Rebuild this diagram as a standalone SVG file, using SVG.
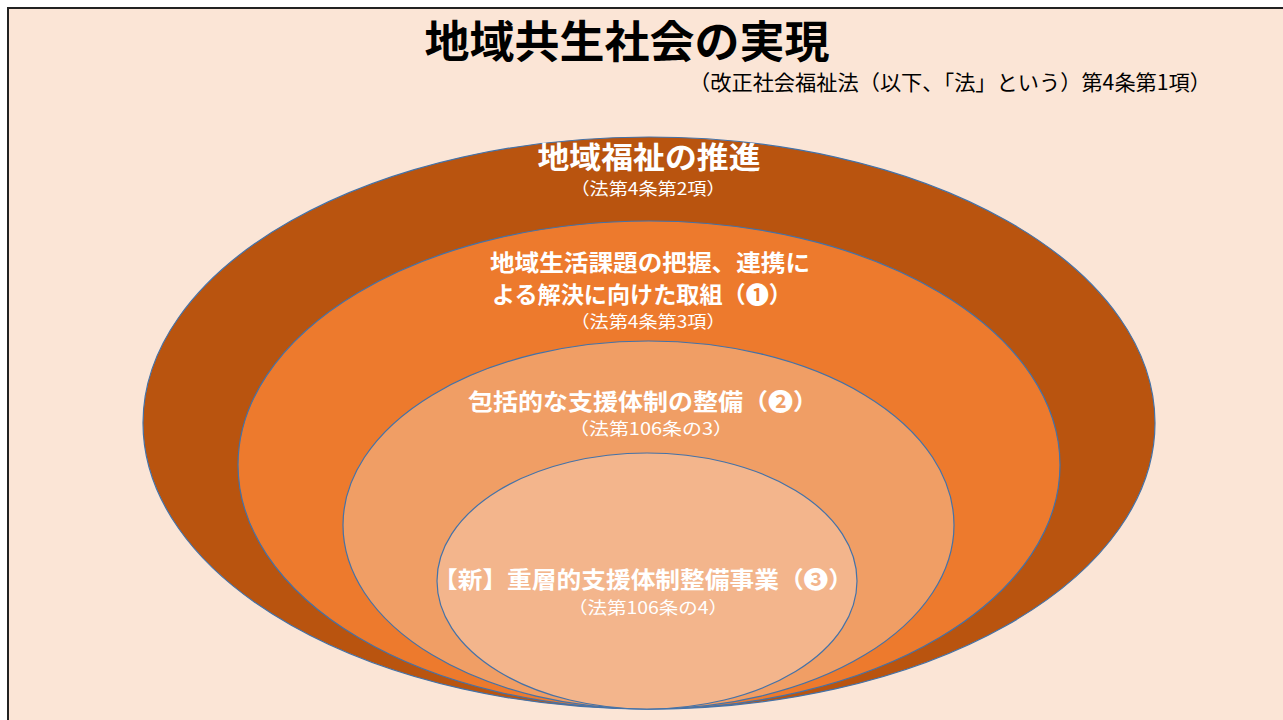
<svg xmlns="http://www.w3.org/2000/svg" width="1283" height="720" viewBox="0 0 1283 720">
<style>
.ring{stroke:#4472A8;stroke-width:1.2}
.t{font-family:"Noto Sans CJK JP","Noto Sans",sans-serif;fill:#fff;text-anchor:middle}
.b{font-weight:bold}
.s{font-size:17px}
.m{font-size:23px;font-weight:bold}
</style>
<rect x="0" y="0" width="1283" height="720" fill="#fff"/>
<rect x="8" y="8" width="1290" height="730" fill="#FBE5D6" stroke="#222" stroke-width="2"/>
<g id="title">
<text x="627" y="58" font-family="'Noto Sans CJK JP',sans-serif" font-weight="bold" font-size="44" fill="#000" text-anchor="middle" textLength="405" lengthAdjust="spacingAndGlyphs">地域共生社会の実現</text>
<text x="950" y="90" font-family="'Noto Sans CJK JP',sans-serif" font-size="21" fill="#000" text-anchor="middle" textLength="522" lengthAdjust="spacingAndGlyphs">（改正社会福祉法（以下、「法」という）第4条第1項）</text>
</g>
<g id="ring1">
<ellipse class="ring" cx="649" cy="423" rx="506" ry="286" fill="#B9540F"/>
<text class="t b" x="649" y="168" font-size="30" textLength="223" lengthAdjust="spacingAndGlyphs">地域福祉の推進</text>
<text class="t s" x="648" y="195" textLength="155" lengthAdjust="spacingAndGlyphs">（法第4条第2項）</text>
</g>
<g id="ring2">
<ellipse class="ring" cx="649" cy="465" rx="411" ry="244" fill="#ED7A2D"/>
<text class="t m" x="650" y="271" textLength="320" lengthAdjust="spacingAndGlyphs">地域生活課題の把握、連携に</text>
<text class="t m" x="642" y="303" textLength="300" lengthAdjust="spacingAndGlyphs">よる解決に向けた取組（❶）</text>
<text class="t s" x="648" y="328" textLength="155" lengthAdjust="spacingAndGlyphs">（法第4条第3項）</text>
</g>
<g id="ring3">
<ellipse class="ring" cx="648.5" cy="525" rx="305.5" ry="184" fill="#F09E65"/>
<text class="t m" x="643" y="410" textLength="350" lengthAdjust="spacingAndGlyphs">包括的な支援体制の整備（❷）</text>
<text class="t s" x="651" y="435" textLength="164" lengthAdjust="spacingAndGlyphs">（法第106条の3）</text>
</g>
<g id="ring4">
<ellipse class="ring" cx="647" cy="581" rx="210" ry="128" fill="#F3B58C"/>
<text class="t m" x="643" y="588" textLength="420" lengthAdjust="spacingAndGlyphs">【新】重層的支援体制整備事業（❸）</text>
<text class="t s" x="648" y="614" textLength="160" lengthAdjust="spacingAndGlyphs">（法第106条の4）</text>
</g>
<g id="connectors"></g>
</svg>
